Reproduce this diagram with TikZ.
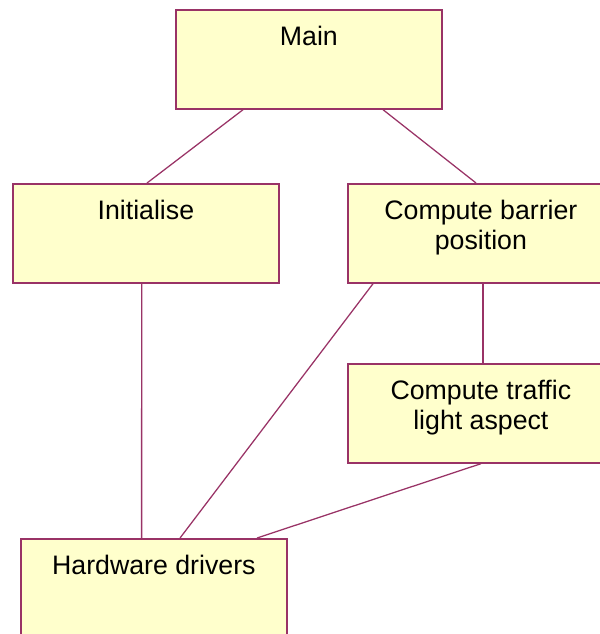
\documentclass[tikz,border=0pt]{standalone}
\usepackage{fontspec}
\setmainfont{Liberation Sans}
\usetikzlibrary{positioning}

\definecolor{boxfill}{HTML}{FFFFCC}
\definecolor{boxline}{HTML}{993366}

% box text sits at the top of the box
\newcommand{\boxtext}[1]{\parbox[c][2.475cm][t]{6.65cm}{\centering\vspace{0.4cm}#1}}

\tikzset{
  module/.style={draw=boxline, fill=boxfill, line width=1.2pt, rectangle,
    inner sep=0pt, anchor=north west, font=\fontsize{19}{21.5}\selectfont},
  link/.style={draw=boxline, line width=0.9pt}
}

\begin{document}
\begin{tikzpicture}[x=0.025cm, y=-0.025cm]
  \useasboundingbox (0,0) rectangle (600,634);
  \clip (0,0) rectangle (600,634);

  \node[module] (main)     at (175,9)   {\boxtext{Main}};
  \node[module] (init)     at (12,183)  {\boxtext{Initialise}};
  \node[module] (barrier)  at (347,183) {\boxtext{Compute barrier\\position}};
  \node[module] (traffic)  at (347,363) {\boxtext{Compute traffic\\light aspect}};
  \node[module] (hardware) at (20,538)  {\boxtext{Hardware drivers}};

  % call structure
  \draw[link] ([xshift=1.7cm]main.south west) -- ([xshift=3.375cm]init.north west);
  \draw[link] ([xshift=5.2cm]main.south west) -- ([xshift=3.225cm]barrier.north west);
  \draw[link] ([xshift=3.24cm]init.south west) -- ([xshift=3.04cm]hardware.north west);
  \draw[link] ([xshift=0.65cm]barrier.south west) -- ([xshift=4cm]hardware.north west);
  \draw[link] ([xshift=3.4cm]barrier.south west) -- ([xshift=3.4cm]traffic.north west);
  \draw[link] (traffic.south) -- ([xshift=5.925cm]hardware.north west);
\end{tikzpicture}
\end{document}
